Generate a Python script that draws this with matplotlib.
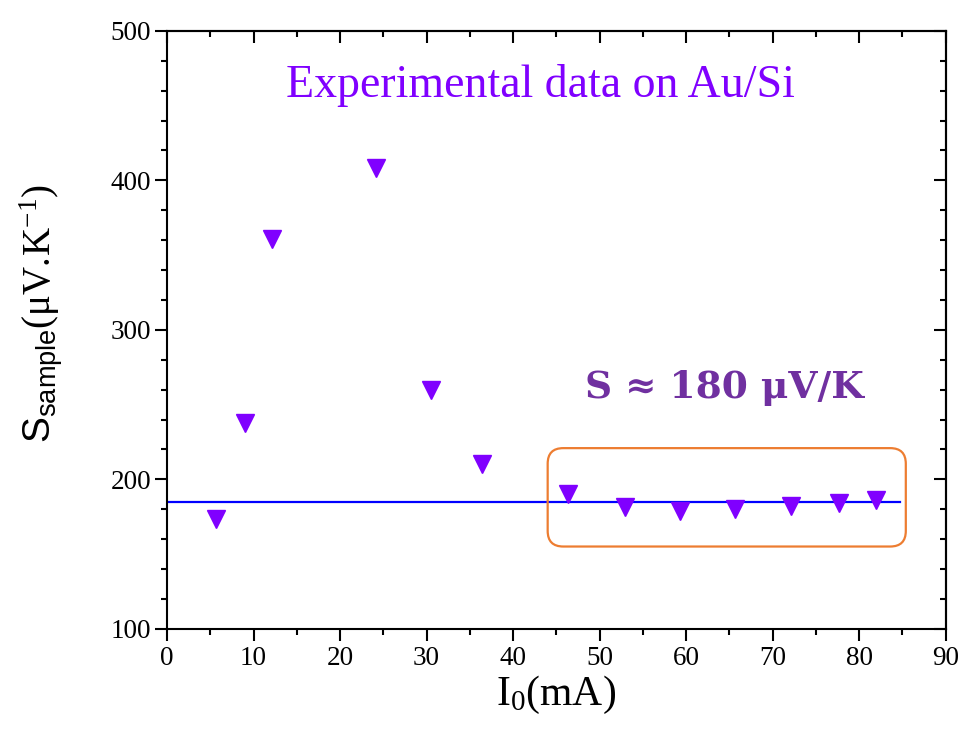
import matplotlib
matplotlib.use("Agg")
import matplotlib.pyplot as plt
from matplotlib.ticker import MultipleLocator
from matplotlib.patches import FancyBboxPatch

# Data
current_mA = [5.7, 9.0, 12.1, 24.1, 30.5, 36.4, 46.4, 52.9, 59.3, 65.7, 72.1, 77.7, 82.0]
seebeck = [173.5, 237.5, 360.5, 408.5, 260.0, 210.5, 190.0, 181.5, 179.0, 180.5, 182.5, 184.5, 186.0]
fit_x = [0, 84.7]
fit_level = 185.2

plt.rcParams['mathtext.fontset'] = 'custom'
plt.rcParams['mathtext.rm'] = 'Liberation Serif'
plt.rcParams['mathtext.sf'] = 'Liberation Sans'
plt.rcParams['mathtext.it'] = 'Liberation Serif:italic'

fig = plt.figure(figsize=(9.6, 7.33), dpi=100)
ax = fig.add_axes([0.174, 0.142, 0.811, 0.816])

ax.plot(fit_x, [fit_level, fit_level], color='#0000FF', lw=1.6, zorder=2)
ax.plot(current_mA, seebeck, linestyle='none', marker='v', ms=13.5,
        color='#8000FF', mec='#8000FF', zorder=3)

box = FancyBboxPatch((44.0, 155.1), 41.4, 65.8,
                     boxstyle="round,pad=0,rounding_size=1.8",
                     mutation_aspect=5.8, fill=False, ec='#ED7D31', lw=1.6, zorder=4)
ax.add_patch(box)

ax.set_xlim(0, 90)
ax.set_ylim(100, 500)
ax.xaxis.set_major_locator(MultipleLocator(10))
ax.xaxis.set_minor_locator(MultipleLocator(5))
ax.yaxis.set_major_locator(MultipleLocator(100))
ax.yaxis.set_minor_locator(MultipleLocator(20))

for s in ax.spines.values():
    s.set_linewidth(1.5)
ax.tick_params(which='both', direction='out', width=1.5, top=False, right=False)
ax.tick_params(which='major', length=8.5)
ax.tick_params(which='minor', length=4.3)
for lab in ax.get_xticklabels() + ax.get_yticklabels():
    lab.set_fontfamily('Liberation Serif')
    lab.set_fontsize(19.5)
ax.tick_params(axis='x', pad=4)
ax.tick_params(axis='y', pad=3)

secx = ax.secondary_xaxis('top')
secx.xaxis.set_major_locator(MultipleLocator(10))
secx.xaxis.set_minor_locator(MultipleLocator(5))
secx.tick_params(which='both', direction='in', width=1.5, labeltop=False)
secx.tick_params(which='major', length=8.5)
secx.tick_params(which='minor', length=4.3)
secx.spines['top'].set_linewidth(1.5)

secy = ax.secondary_yaxis('right')
secy.yaxis.set_major_locator(MultipleLocator(100))
secy.yaxis.set_minor_locator(MultipleLocator(20))
secy.tick_params(which='both', direction='in', width=1.5, labelright=False)
secy.tick_params(which='major', length=8.5)
secy.tick_params(which='minor', length=4.3)
secy.spines['right'].set_linewidth(1.5)

ax.set_xlabel(r'$\mathrm{I_0(mA)}$', fontsize=30, labelpad=2)
ax.set_ylabel(r'$\mathsf{S}_{\mathsf{sample}}\mathrm{(μV{.}\!K^{-1})}$', fontsize=28)
ax.yaxis.set_label_coords(-0.131, 0.527)

ax.text(43.2, 455.4, 'Experimental data on Au/Si', color='#8000FF',
        fontfamily='Liberation Serif', fontsize=33, ha='center', va='baseline')
ax.text(64.4, 254.3, 'S ≈ 180 μV/K', color='#7030A0', fontweight='bold',
        fontfamily='DejaVu Serif', fontsize=27, ha='center', va='baseline')

fig.savefig('out.png', dpi=100)
